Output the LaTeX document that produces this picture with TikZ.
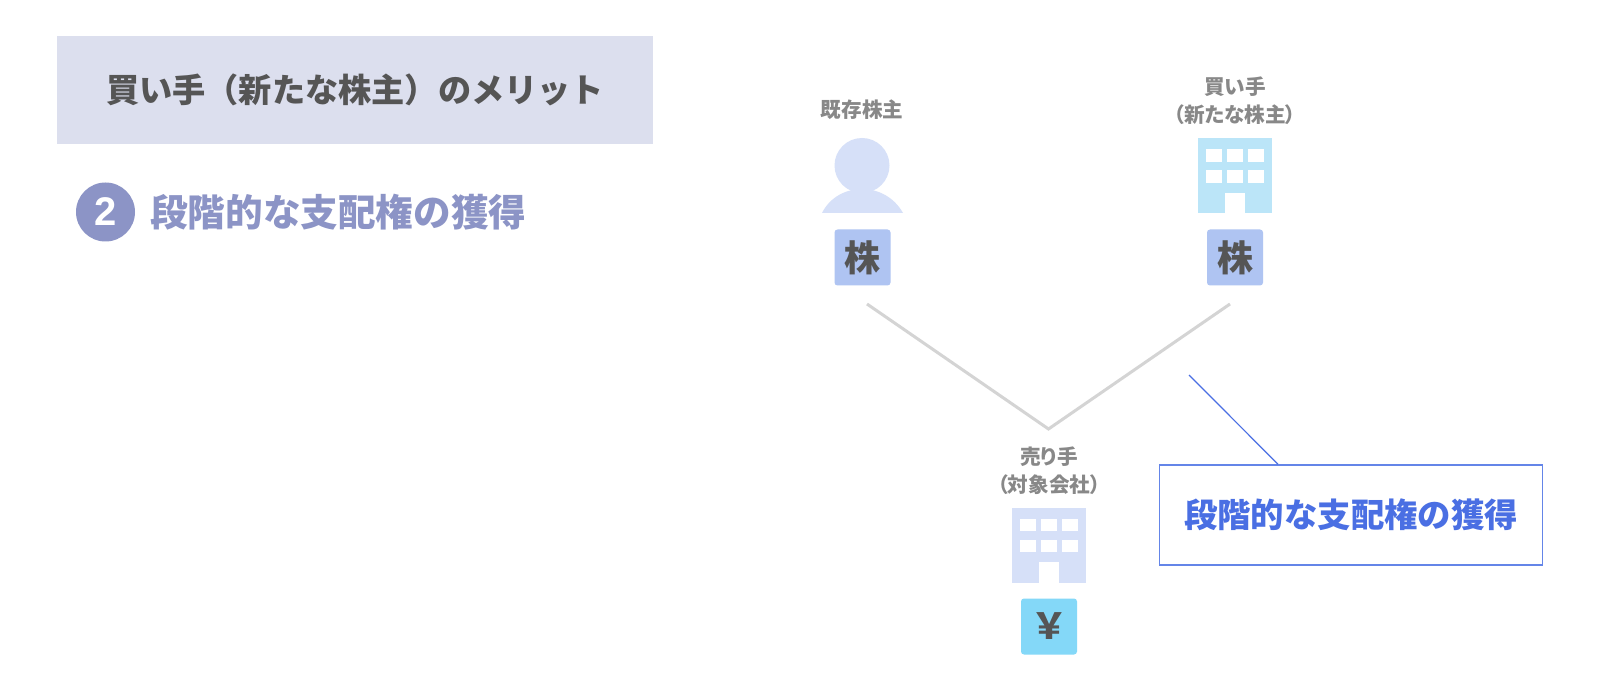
\documentclass[tikz,border=0pt]{standalone}
\usepackage{fontspec}
\usepackage{tikz}
\usetikzlibrary{positioning}
\newfontfamily\cjk{Noto Sans CJK JP}
\newfontfamily\cjkp[RawFeature=+palt]{Noto Sans CJK JP}
\newfontfamily\digitfont{Liberation Sans}
\definecolor{headfill}{HTML}{DCDFEE}
\definecolor{darktext}{HTML}{555555}
\definecolor{purple}{HTML}{8C94C6}
\definecolor{labeltext}{HTML}{888888}
\definecolor{paleblue}{HTML}{D6E0F8}
\definecolor{palecyan}{HTML}{BBE5F8}
\definecolor{stockfill}{HTML}{AFC4F2}
\definecolor{yenfill}{HTML}{84D8F8}
\definecolor{noteblue}{HTML}{4A6FE3}
\definecolor{noteedge}{HTML}{6485E8}
\definecolor{linegray}{HTML}{D4D4D4}
\tikzset{
  chip/.style={rounded corners=3pt, minimum width=56pt, minimum height=56pt, inner sep=0pt,
    text=darktext, font=\cjk\bfseries\fontsize{36}{36}\selectfont},
  who/.style={align=center, text=labeltext, inner sep=0pt,
    font=\cjkp\bfseries\fontsize{20.6}{28}\selectfont},
  pics/bldg/.style={code={
    \fill[#1] (0,0) rectangle (74,75);
    \foreach \wx in {8.3,29,50}
      \foreach \wy in {10.7,31.7}
        \fill[white] (\wx,\wy) rectangle ++(16,12.6);
    \fill[white] (27.3,54.3) rectangle (47.3,75);
  }}
}

\begin{document}
\begin{tikzpicture}[x=1pt,y=-1pt]
    \useasboundingbox (0,0) rectangle (1600,692);
    \fill[white] (0,0) rectangle (1600,692);

    \node[fill=headfill, minimum width=596pt, minimum height=108pt, inner sep=0pt, text=darktext,
      font=\cjk\bfseries\fontsize{33.2}{33.2}\selectfont] (head) at (355,90) {買い手（新たな株主）のメリット};
    \node[circle, fill=purple, minimum size=59pt, inner sep=0pt, text=white,
      font=\digitfont\bfseries\fontsize{40}{40}\selectfont] (num) at (105.5,212) {2};
    \node[anchor=west, inner sep=0pt, text=purple,
      font=\cjk\bfseries\fontsize{37.6}{37.6}\selectfont] (point) at (150,212) {段階的な支配権の獲得};

    \node[who] (holderlabel) at (862,110) {既存株主};
    \fill[paleblue] (862,165.5) circle (27.5);
    \fill[paleblue] (822,213) .. controls (830,197) and (846,189) .. (862,189)
      .. controls (878,189) and (894,197) .. (903,213) -- cycle;
    \node[chip, fill=stockfill] (holderstock) at (862.5,257.5) {株};

    \node[who] (buyerlabel) at (1235,101) {買い手\\（新たな株主）};
    \pic at (1198,138.5) {bldg=palecyan};
    \node[chip, fill=stockfill] (buyerstock) at (1235,257.5) {株};

    \node[who] (sellerlabel) at (1049,471) {売り手\\（対象会社）};
    \pic at (1012,508) {bldg=paleblue};
    \node[chip, fill=yenfill] (sellercash) at (1049,626.5) {￥};

    \coordinate (holderend) at (867,304);
    \coordinate (buyerend) at (1230,304);
    \coordinate (sellerend) at (1048.5,429);
    \draw[linegray, line width=3pt] (holderend) -- (sellerend) -- (buyerend);

    \node[draw=noteedge, line width=1.5pt, minimum width=383pt, minimum height=100pt, inner sep=0pt,
      text=noteblue, font=\cjk\bfseries\fontsize{33.4}{33.4}\selectfont] (note) at (1351,515) {段階的な支配権の獲得};
    \coordinate (notetip) at (1189,375);
    \draw[noteblue, line width=1.2pt] (notetip) -- ([xshift=-73pt]note.north);
\end{tikzpicture}
\end{document}
